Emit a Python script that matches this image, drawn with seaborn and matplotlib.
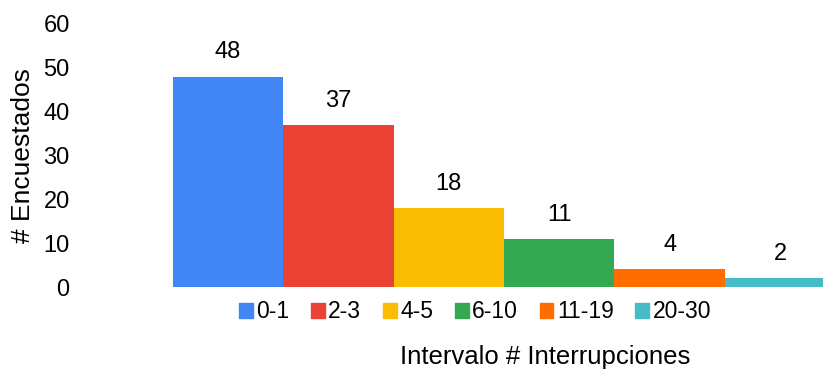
import numpy as np
import pandas as pd
import matplotlib
matplotlib.use("Agg")
import matplotlib.pyplot as plt
import seaborn as sns

# datos
intervalos = ["0-1", "2-3", "4-5", "6-10", "11-19", "20-30"]
encuestados = [48, 37, 18, 11, 4, 2]
colores = ["#4285F4", "#EA4335", "#FBBC04", "#34A853", "#FF6D01", "#46BDC6"]

df = pd.DataFrame({"intervalo": intervalos, "n": encuestados})

sns.set_style("white")
plt.rcParams["font.family"] = ["Liberation Sans", "DejaVu Sans"]
plt.rcParams["text.color"] = "black"
plt.rcParams["ytick.color"] = "black"
plt.rcParams["axes.labelcolor"] = "black"

fig = plt.figure(figsize=(8.23, 3.71), dpi=100)
ax = fig.add_axes([78 / 823, 1 - 287 / 371, 1 - 78 / 823, (287 - 24) / 371])

sns.barplot(data=df, x="intervalo", y="n", hue="intervalo", palette=colores,
            width=1, saturation=1, legend=False, linewidth=0, ax=ax)

for i, v in enumerate(encuestados):
    ax.text(i, v + 3, str(v), ha="center", va="bottom", fontsize=17)

ax.set_xlim((78 - 228) / 110.4, (823 - 228) / 110.4)
ax.set_ylim(0, 60)
ax.set_yticks(range(0, 61, 10))
ax.tick_params(axis="y", labelsize=17, length=0, pad=6)
ax.set_xticks([])
ax.set_xlabel("")
ax.set_ylabel("# Encuestados", fontsize=19)
ax.yaxis.set_label_coords(-0.058, 0.50)
sns.despine(left=True, bottom=True)

handles = [plt.Rectangle((0, 0), 1, 1, color=c) for c in colores]
fig.legend(handles, intervalos, loc="center", bbox_to_anchor=(475 / 823, 1 - 312 / 371),
           ncol=6, frameon=False, fontsize=16.5, handlelength=0.6, handleheight=0.6,
           handletextpad=0.15, columnspacing=0.95)

fig.text(545 / 823, 1 - 357 / 371, "Intervalo # Interrupciones", ha="center", va="center", fontsize=18.5)

fig.savefig("out.png", dpi=100)
